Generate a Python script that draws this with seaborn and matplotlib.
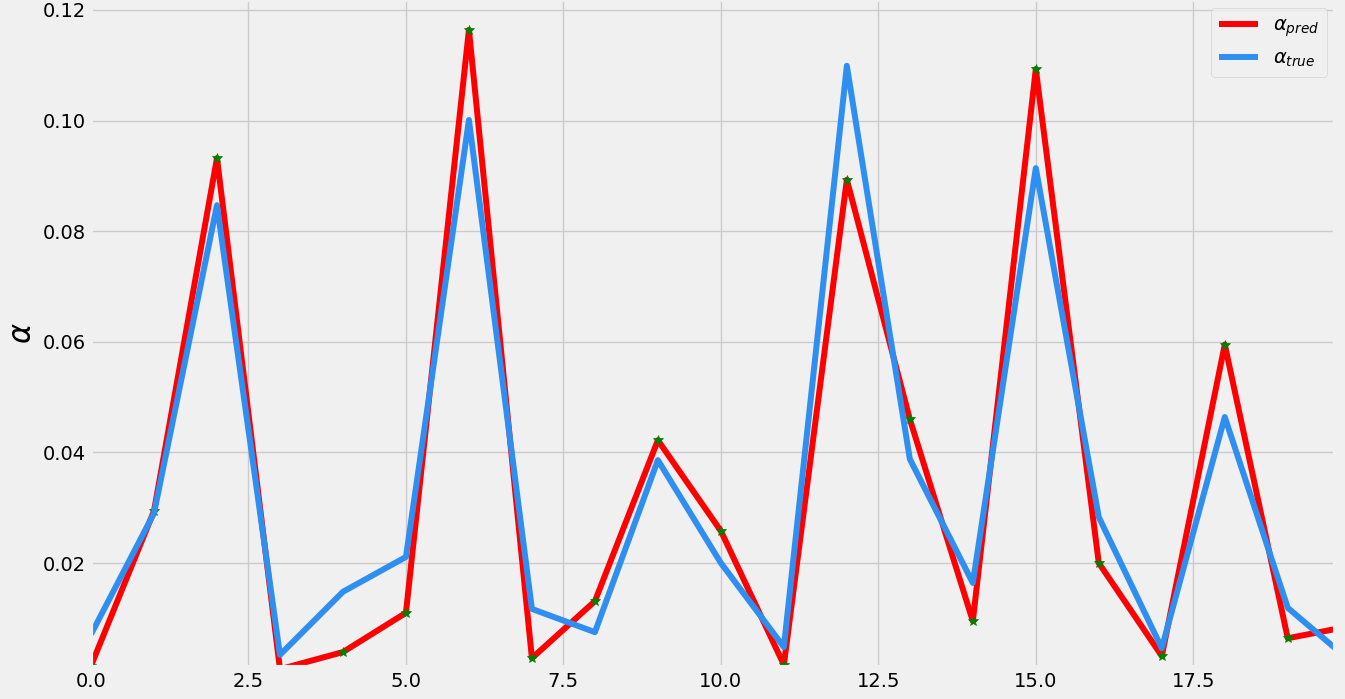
import seaborn as sns
import matplotlib.pyplot as plt
import pandas as pd

# values
steps = list(range(21))
alpha_pred = [0.0014, 0.0294, 0.0932, 0.0008, 0.0039, 0.0110, 0.1164, 0.0028, 0.0131, 0.0422,
              0.0258, 0.0016, 0.0893, 0.0460, 0.0095, 0.1093, 0.0200, 0.0032, 0.0595, 0.0064,
              0.0086]
alpha_true = [0.0071, 0.0290, 0.0847, 0.0034, 0.0148, 0.0211, 0.1001, 0.0117, 0.0075, 0.0386,
              0.0200, 0.0048, 0.1099, 0.0388, 0.0164, 0.0914, 0.0283, 0.0046, 0.0464, 0.0119,
              0.0022]

df = pd.DataFrame({'step': steps, 'pred': alpha_pred, 'true': alpha_true})

plt.style.use('fivethirtyeight')
plt.rcParams['font.family'] = ['DejaVu Sans']

fig = plt.figure(figsize=(13.45, 6.99), dpi=100)
fig.patch.set_facecolor('#f0f0f0')
ax = fig.add_axes([91 / 1345, 32 / 699, 1244 / 1345, 667 / 699])

sns.lineplot(data=df, x='step', y='pred', ax=ax, color='red', linewidth=4.3,
             marker='*', markersize=7, markerfacecolor='green', markeredgecolor='green',
             markeredgewidth=0.5, label=r'$\alpha_{pred}$')
sns.lineplot(data=df, x='step', y='true', ax=ax, color='#2f8ff0', linewidth=4.3,
             label=r'$\alpha_{true}$')

ax.set_xlim(0, 19.75)
ax.set_ylim(0.0012, 0.1218)
ax.set_xlabel('')
ax.set_ylabel(r'$\alpha$', fontsize=22)
ax.tick_params(labelsize=14)
leg = ax.legend(loc='upper right', fontsize=14, frameon=True, borderaxespad=0.4)
# legend shows plain lines only
for h in leg.legend_handles:
    h.set_marker('')

fig.savefig('out.png', dpi=100, facecolor=fig.get_facecolor())
